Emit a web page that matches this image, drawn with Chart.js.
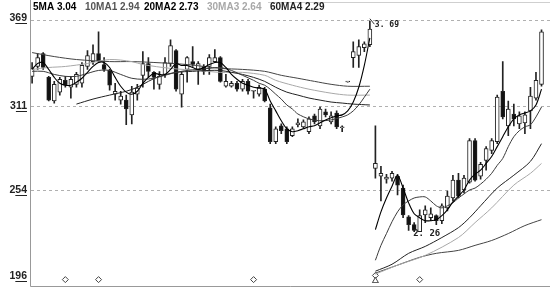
<!DOCTYPE html>
<html>
<head>
<meta charset="utf-8">
<script src="https://cdn.jsdelivr.net/npm/chart.js@4.4.0/dist/chart.umd.min.js"></script>
<style>
  html, body { margin: 0; padding: 0; background: #fff; }
  #wrap { position: relative; width: 550px; height: 288px; }
</style>
</head>
<body>
<div id="wrap"><canvas id="kline" width="550" height="288"></canvas></div>
<script>
// Daily candles, prices (index = trading day)
const opens = [
  3.313, 3.380, 3.467, 3.306, 3.146, 3.206, 3.286, 3.239, 3.259, 3.266,
  3.380, 3.413, 3.467, 3.393, 3.353, 3.192, 3.152, 3.152, 3.052, 3.192,
  3.320, 3.400, 3.340, 3.259, 3.326, 3.400, 3.487, 3.192, 3.360, 3.413,
  3.360, 3.380, 3.380, 3.413, 3.440, 3.246, 3.246, 3.266, 3.226, 3.279,
  3.212, 3.192, 3.226, 3.099, 2.871, 2.978, 2.958, 2.911, 2.985, 2.971,
  2.938, 3.045, 2.978, 3.072, 3.005, 3.065, 2.965, 3.275, 3.440, 3.454,
  3.507, 3.527, 2.690, 2.636, 2.616, 2.623, 2.636, 2.556, 2.362, 2.308,
  2.261, 2.375, 2.355, 2.369, 2.335, 2.422, 2.489, 2.610, 2.543, 2.596,
  2.878, 2.636, 2.744, 2.811, 2.871, 3.212, 2.978, 3.058, 2.991, 2.998,
  3.079, 3.166, 3.259
];
const highs = [
  3.407, 3.467, 3.474, 3.313, 3.279, 3.306, 3.313, 3.313, 3.340, 3.407,
  3.487, 3.527, 3.614, 3.440, 3.360, 3.266, 3.212, 3.186, 3.246, 3.259,
  3.480, 3.440, 3.346, 3.346, 3.440, 3.561, 3.494, 3.346, 3.447, 3.514,
  3.413, 3.393, 3.460, 3.494, 3.447, 3.326, 3.279, 3.279, 3.293, 3.293,
  3.219, 3.253, 3.239, 3.125, 2.971, 2.991, 2.971, 2.971, 3.025, 3.018,
  3.038, 3.058, 3.105, 3.092, 3.072, 3.079, 2.978, 3.277, 3.547, 3.561,
  3.547, 3.690, 2.978, 2.703, 2.650, 2.670, 2.650, 2.576, 2.369, 2.322,
  2.409, 2.436, 2.422, 2.375, 2.449, 2.536, 2.643, 2.656, 2.643, 2.891,
  2.891, 2.730, 2.837, 2.891, 3.186, 3.413, 3.146, 3.125, 3.072, 3.072,
  3.239, 3.340, 3.628
];
const lows = [
  3.266, 3.360, 3.360, 3.146, 3.132, 3.186, 3.239, 3.166, 3.239, 3.239,
  3.360, 3.393, 3.407, 3.346, 3.219, 3.152, 3.125, 2.985, 2.991, 3.152,
  3.239, 3.306, 3.226, 3.226, 3.306, 3.380, 3.212, 3.105, 3.273, 3.380,
  3.259, 3.326, 3.326, 3.407, 3.273, 3.239, 3.239, 3.212, 3.212, 3.192,
  3.166, 3.179, 3.139, 2.857, 2.857, 2.924, 2.857, 2.904, 2.971, 2.958,
  2.924, 2.991, 2.958, 3.038, 2.991, 2.958, 2.938, 3.273, 3.373, 3.373,
  3.480, 3.514, 2.623, 2.469, 2.590, 2.603, 2.509, 2.355, 2.270, 2.260,
  2.260, 2.322, 2.335, 2.308, 2.315, 2.402, 2.469, 2.489, 2.523, 2.590,
  2.603, 2.616, 2.677, 2.790, 2.857, 3.025, 2.911, 2.978, 2.958, 2.924,
  2.958, 3.152, 3.246
];
const closes = [
  3.366, 3.440, 3.373, 3.152, 3.259, 3.293, 3.253, 3.293, 3.326, 3.387,
  3.454, 3.467, 3.420, 3.360, 3.253, 3.212, 3.179, 3.092, 3.206, 3.233,
  3.400, 3.346, 3.306, 3.313, 3.407, 3.521, 3.226, 3.326, 3.440, 3.393,
  3.400, 3.346, 3.440, 3.440, 3.279, 3.279, 3.266, 3.226, 3.279, 3.212,
  3.219, 3.239, 3.146, 2.871, 2.958, 2.945, 2.871, 2.958, 2.998, 3.005,
  3.025, 3.005, 3.092, 3.052, 3.045, 2.971, 2.971, 3.275, 3.480, 3.514,
  3.534, 3.634, 2.723, 2.656, 2.630, 2.656, 2.576, 2.375, 2.308, 2.270,
  2.369, 2.409, 2.382, 2.335, 2.436, 2.502, 2.610, 2.502, 2.623, 2.878,
  2.610, 2.717, 2.824, 2.878, 3.172, 3.038, 3.092, 3.025, 3.045, 3.052,
  3.179, 3.286, 3.614
];

// moving averages
const ma5 = [
  3.360, 3.400, 3.407, 3.360, 3.306, 3.266, 3.253, 3.253, 3.273, 3.300,
  3.340, 3.380, 3.407, 3.407, 3.373, 3.306, 3.246, 3.206, 3.192, 3.212,
  3.266, 3.306, 3.333, 3.326, 3.326, 3.360, 3.400, 3.387, 3.387, 3.373,
  3.360, 3.373, 3.393, 3.407, 3.407, 3.373, 3.326, 3.293, 3.266, 3.253,
  3.239, 3.233, 3.226, 3.146, 3.079, 3.012, 2.958, 2.938, 2.945, 2.958,
  2.971, 2.978, 2.998, 3.018, 3.032, 3.045, 3.052, 3.079, 3.139, 3.239,
  3.387, 3.574, 2.275, 2.395, 2.489, 2.569, 2.643, 2.556, 2.456, 2.382,
  2.355, 2.335, 2.335, 2.342, 2.369, 2.409, 2.462, 2.502, 2.543, 2.610,
  2.650, 2.677, 2.723, 2.770, 2.837, 2.904, 2.971, 3.025, 3.052, 3.065,
  3.079, 3.119, 3.226
];
const ma10 = [
  [0, 3.347], [2, 3.347], [4, 3.326], [6, 3.313], [8, 3.313], [10, 3.333],
  [12, 3.353], [14, 3.353], [16, 3.326], [18, 3.300], [20, 3.293], [22, 3.300],
  [24, 3.320], [26, 3.340], [28, 3.353], [30, 3.360], [32, 3.367], [34, 3.373],
  [36, 3.353], [38, 3.320], [40, 3.286], [41, 3.266], [42, 3.253], [43, 3.226],
  [44, 3.192], [45, 3.159], [46, 3.119], [47, 3.092], [48, 3.058], [50, 3.025],
  [52, 3.012], [54, 3.018], [56, 3.038], [57, 3.052], [58, 3.079], [59, 3.119],
  [60, 3.172], [61, 3.226],
  [62, 2.067], [63, 2.168], [64, 2.248], [65, 2.328], [66, 2.395], [67, 2.442],
  [68, 2.469], [69, 2.489], [70, 2.496], [71, 2.496], [72, 2.469], [73, 2.436],
  [74, 2.422], [75, 2.436], [76, 2.456], [77, 2.489], [78, 2.516], [79, 2.543],
  [80, 2.556], [81, 2.583], [82, 2.616], [83, 2.656], [84, 2.710], [85, 2.757],
  [86, 2.837], [87, 2.904], [88, 2.945], [89, 2.971], [90, 2.985], [91, 3.038],
  [92, 3.105]
];
const ma20 = [
  [8, 3.125], [11, 3.159], [14, 3.186], [17, 3.212], [19, 3.239], [21, 3.279],
  [23, 3.313], [26, 3.340], [29, 3.347], [32, 3.353], [34, 3.353], [36, 3.340],
  [38, 3.326], [40, 3.306], [42, 3.279], [44, 3.239], [46, 3.206], [48, 3.186],
  [50, 3.166], [52, 3.152], [54, 3.139], [56, 3.132], [58, 3.125], [61, 3.119],
  [62, 1.993], [65, 2.040], [68, 2.114], [71, 2.161], [74, 2.221], [77, 2.288],
  [79, 2.355], [81, 2.436], [84, 2.556], [87, 2.643], [90, 2.737], [92, 2.857]
];
const ma30 = [
  [0, 3.360], [3, 3.373], [6, 3.380], [10, 3.400], [14, 3.427], [18, 3.413],
  [20, 3.393], [25, 3.367], [30, 3.353], [34, 3.340], [38, 3.340], [42, 3.320],
  [44, 3.286], [47, 3.253], [50, 3.226], [54, 3.199], [57, 3.186], [61, 3.186],
  [62, 1.973], [66, 2.034], [71, 2.100], [77, 2.221], [80, 2.322], [83, 2.422],
  [87, 2.576], [90, 2.656], [92, 2.723]
];
const ma60 = [
  [0, 3.474], [4, 3.447], [8, 3.427], [14, 3.413], [18, 3.413], [22, 3.407],
  [28, 3.393], [34, 3.367], [38, 3.360], [42, 3.347], [45, 3.320], [48, 3.300],
  [51, 3.279], [54, 3.259], [57, 3.246], [61, 3.246],
  [62, 1.980], [66, 2.034], [70, 2.087], [73, 2.114], [77, 2.134], [80, 2.168],
  [83, 2.201], [86, 2.248], [89, 2.302], [92, 2.342]
];

const gapAfter = 61;                 // price break between day 61 and 62
const tickValues = [3.69, 3.11, 2.54, 1.96];
const gridValues = [3.69, 3.11, 2.54];
const markerDays = [6, 12, 40, 70];
const maxDay = 61, maxLabel = '3. 69';
const minDay = 69, minLabel = '2. 26';

const header = [
  { text: '5MA 3.04', x: 33, color: '#000' },
  { text: '10MA1 2.94', x: 85, color: '#555' },
  { text: '20MA2 2.73', x: 144, color: '#000' },
  { text: '30MA3 2.64', x: 207, color: '#a8a8a8' },
  { text: '60MA4 2.29', x: 270, color: '#222' }
];

// ---- build datasets ----
const days = opens.map((_, i) => i);
const rising = days.map(i => closes[i] >= opens[i]);

function withGap(points) {
  const out = [];
  points.forEach(([x, y]) => {
    if (x === gapAfter + 1) out.push({ x: gapAfter + 0.5, y: null });
    out.push({ x, y });
  });
  return out;
}

function maLine(label, points, color, width) {
  return {
    type: 'line', label, data: withGap(points),
    borderColor: color, borderWidth: width,
    pointRadius: 0, tension: 0.3, fill: false, order: 0
  };
}

const Y_BOTTOM = 1.913;
const markLevel = 1.936;

const overlay = {
  id: 'overlay',
  beforeDatasetsDraw(chart) {
    const { ctx, scales: { y } } = chart;
    ctx.save();
    ctx.strokeStyle = '#b0b0b0';
    ctx.lineWidth = 1;
    ctx.setLineDash([3, 3]);
    gridValues.forEach(v => {
      const py = Math.floor(y.getPixelForValue(v)) + 0.5;
      ctx.beginPath();
      ctx.moveTo(31, py);
      ctx.lineTo(550, py);
      ctx.stroke();
    });
    ctx.restore();
  },
  afterDraw(chart) {
    const { ctx, scales: { x, y } } = chart;
    ctx.save();

    // frame
    ctx.strokeStyle = '#999';
    ctx.lineWidth = 1;
    ctx.beginPath();
    ctx.moveTo(30.5, 0);
    ctx.lineTo(30.5, 286.5);
    ctx.lineTo(550, 286.5);
    ctx.stroke();
    ctx.strokeStyle = '#cfcfcf';
    ctx.beginPath();
    ctx.moveTo(268, 2.5);
    ctx.lineTo(550, 2.5);
    ctx.stroke();

    // y labels, last two digits underlined
    ctx.font = 'bold 10.5px Arial, "Liberation Sans", sans-serif';
    ctx.fillStyle = '#222';
    ctx.textAlign = 'right';
    ctx.textBaseline = 'middle';
    tickValues.forEach((v, k) => {
      const txt = String(Math.round(v * 100));
      const py = k === 0 ? 18 : y.getPixelForValue(v);
      ctx.fillText(txt, 27, py);
      const w = ctx.measureText(txt).width;
      const w1 = ctx.measureText(txt[0]).width;
      ctx.fillRect(27 - w + w1, Math.round(py + 4.5), w - w1, 1);
    });

    // MA header
    ctx.textAlign = 'left';
    ctx.textBaseline = 'alphabetic';
    ctx.font = 'bold 10px Arial, "Liberation Sans", sans-serif';
    header.forEach(h => {
      ctx.fillStyle = h.color;
      ctx.fillText(h.text, h.x, 9.5);
    });

    // max / min annotations
    const hx = x.getPixelForValue(maxDay);
    const hy = y.getPixelForValue(highs[maxDay]);
    ctx.strokeStyle = '#333';
    ctx.beginPath();
    ctx.moveTo(hx, hy - 2);
    ctx.lineTo(hx + 4.5, hy + 3.5);
    ctx.stroke();
    ctx.fillStyle = '#222';
    ctx.font = 'bold 8px "DejaVu Sans Mono", monospace';
    ctx.fillText(maxLabel, hx + 5, hy + 6);

    const lx = x.getPixelForValue(minDay);
    const ly = y.getPixelForValue(lows[minDay]);
    ctx.font = 'bold 9px "DejaVu Sans Mono", monospace';
    ctx.fillText(minLabel, lx - 1, ly + 4.5);

    ctx.restore();
  }
};

new Chart(document.getElementById('kline'), {
  type: 'bar',
  data: {
    datasets: [
      maLine('MA5', ma5.map((v, i) => [i, v]), '#000', 1.1),
      maLine('MA10', ma10, '#3a3a3a', 1),
      maLine('MA20', ma20, '#222', 1),
      maLine('MA30', ma30, '#a8a8a8', 1),
      maLine('MA60', ma60, '#444', 1),
      {
        type: 'line', label: 'marks',
        data: markerDays.map(d => ({ x: d, y: markLevel })),
        showLine: false, pointStyle: 'rectRot', pointRadius: 3,
        pointBorderColor: '#444', pointBackgroundColor: '#fff', pointBorderWidth: 1,
        order: 0
      },
      {
        type: 'line', label: 'gap marks',
        data: [{ x: gapAfter + 1, y: 1.964 }, { x: gapAfter + 1, y: 1.927 }],
        showLine: false, pointStyle: ['rectRot', 'triangle'], pointRadius: [3, 3.5],
        pointBorderColor: '#444', pointBackgroundColor: '#fff', pointBorderWidth: 1,
        order: 0
      },
      {
        label: 'body',
        data: days.map(i => ({ x: i, y: [opens[i], closes[i]] })),
        backgroundColor: days.map(i => rising[i] ? '#fff' : '#111'),
        borderColor: '#222',
        borderWidth: 1,
        borderSkipped: false,
        barThickness: 4,
        minBarLength: 1,
        grouped: false,
        order: 1
      },
      {
        label: 'wick',
        data: days.map(i => ({ x: i, y: [lows[i], highs[i]] })),
        backgroundColor: '#222',
        borderWidth: 0,
        barThickness: 1,
        grouped: false,
        order: 2
      }
    ]
  },
  options: {
    responsive: false,
    animation: false,
    devicePixelRatio: 1,
    events: [],
    layout: { padding: { left: 31, right: 2, top: 20.7, bottom: 1.3 } },
    plugins: { legend: { display: false }, tooltip: { enabled: false } },
    scales: {
      x: { type: 'linear', min: -0.2, max: 92.63, offset: false, display: false },
      y: { type: 'linear', min: Y_BOTTOM, max: 3.69, display: false }
    }
  },
  plugins: [overlay]
});
</script>
</body>
</html>
